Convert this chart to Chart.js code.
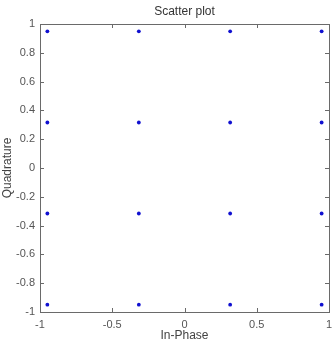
<!DOCTYPE html>
<html><head><meta charset="utf-8">
<script src="https://cdn.jsdelivr.net/npm/chart.js@4/dist/chart.umd.min.js"></script>
<style>html,body{margin:0;padding:0;background:#fff}#wrap{width:334px;height:343px}</style>
</head><body><div id="wrap"><canvas id="c" width="334" height="343"></canvas></div>
<script>
const inPhase    = [-0.949,-0.949,-0.949,-0.949,-0.316,-0.316,-0.316,-0.316,0.316,0.316,0.316,0.316,0.949,0.949,0.949,0.949];
const quadrature = [0.949,0.316,-0.316,-0.949,0.949,0.316,-0.316,-0.949,0.949,0.316,-0.316,-0.949,0.949,0.316,-0.316,-0.949];
const xTicks = [-1,-0.5,0,0.5,1];
const yTicks = [-1,-0.8,-0.6,-0.4,-0.2,0,0.2,0.4,0.6,0.8,1];
const titleText = 'Scatter plot';
const xLabel = 'In-Phase';
const yLabel = 'Quadrature';

const FONT = 'Liberation Sans, Arial, sans-serif';
const fmt = v => String(Math.round(v*10)/10);

const boxPlugin = {
  id:'box',
  afterDraw(chart){
    const {ctx, chartArea:a, scales:{x,y}} = chart;
    ctx.save();
    ctx.strokeStyle = '#6a6a6a';
    ctx.lineWidth = 1;
    ctx.strokeRect(Math.round(a.left)+0.5, Math.round(a.top)+0.5, Math.round(a.right-a.left), Math.round(a.bottom-a.top));
    const L = 4;
    ctx.beginPath();
    xTicks.forEach(v=>{
      const px = Math.round(x.getPixelForValue(v))+0.5;
      ctx.moveTo(px,a.bottom); ctx.lineTo(px,a.bottom-L);
      ctx.moveTo(px,a.top); ctx.lineTo(px,a.top+L);
    });
    yTicks.forEach(v=>{
      const py = Math.round(y.getPixelForValue(v))+0.5;
      ctx.moveTo(a.left,py); ctx.lineTo(a.left+L,py);
      ctx.moveTo(a.right,py); ctx.lineTo(a.right-L,py);
    });
    ctx.stroke();
    ctx.fillStyle = '#333';
    ctx.font = '12px ' + FONT;
    ctx.textAlign = 'center';
    ctx.textBaseline = 'alphabetic';
    ctx.fillText(titleText, (a.left+a.right)/2, 15);
    ctx.restore();
  }
};

new Chart(document.getElementById('c'), {
  type:'scatter',
  data:{datasets:[{
    data: inPhase.map((v,i)=>({x:v, y:quadrature[i]})),
    pointRadius:1.9, pointHoverRadius:1.9,
    backgroundColor:'#1010d0', borderColor:'#1010d0', borderWidth:0
  }]},
  options:{
    responsive:false, animation:false, devicePixelRatio:1,
    layout:{padding:{top:24,right:5,left:0,bottom:0}},
    plugins:{legend:{display:false}, tooltip:{enabled:false}, title:{display:false}},
    scales:{
      x:{
        type:'linear', min:-1, max:1,
        afterBuildTicks: s => { s.ticks = xTicks.map(v=>({value:v})); },
        afterFit: s => { s.height = 31; s.paddingLeft = 0; s.paddingRight = 0; },
        grid:{display:false, drawTicks:false},
        border:{display:false},
        ticks:{padding:6, color:'#555', font:{family:FONT,size:11}, callback: v=>fmt(v), maxRotation:0},
        title:{display:true, text:xLabel, color:'#444', font:{family:FONT,size:12}, padding:{top:0,bottom:0}}
      },
      y:{
        type:'linear', min:-1, max:1,
        afterBuildTicks: s => { s.ticks = yTicks.map(v=>({value:v})); },
        afterFit: s => { s.width = 40; s.paddingTop = 0; s.paddingBottom = 0; },
        grid:{display:false, drawTicks:false},
        border:{display:false},
        ticks:{padding:5, color:'#555', font:{family:FONT,size:11}, callback: v=>fmt(v)},
        title:{display:true, text:yLabel, color:'#444', font:{family:FONT,size:12}, padding:{top:0,bottom:0}}
      }
    }
  },
  plugins:[boxPlugin]
});
</script></body></html>
